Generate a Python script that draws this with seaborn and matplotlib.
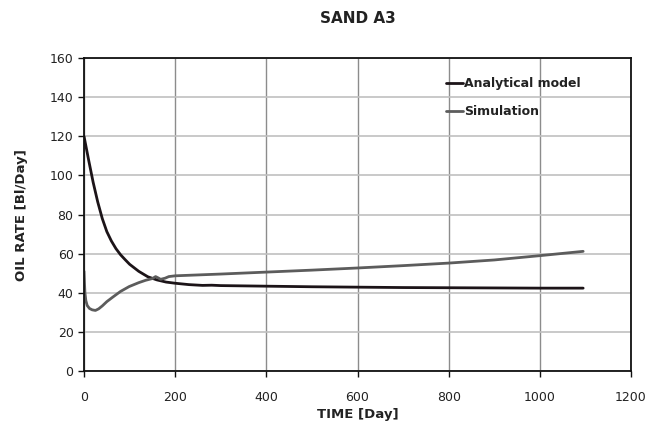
import numpy as np
import pandas as pd
import matplotlib
matplotlib.use('Agg')
import matplotlib.pyplot as plt
import seaborn as sns

# Analytical model curve
ana_days = [0, 10, 20, 30, 40, 50, 60, 70, 80, 90, 100, 120, 140, 160, 180, 200,
            230, 260, 280, 300, 400, 500, 600, 700, 800, 900, 1000, 1095]
ana_rate = [120, 108, 96.5, 86.5, 78, 71.3, 66.5, 62.6, 59.5, 57, 54.6, 51.0, 48.2, 46.6, 45.5, 44.9,
            44.2, 43.8, 43.9, 43.7, 43.4, 43.1, 42.9, 42.7, 42.6, 42.5, 42.4, 42.4]

# Simulation curve
sim_days = [0, 1, 2, 4, 7, 12, 18, 25, 32, 40, 50, 63, 80, 99, 120, 135, 150, 157, 163, 168,
            178, 186, 200, 300, 400, 500, 600, 700, 800, 900, 1000, 1095]
sim_rate = [51, 45, 40, 36, 33.5, 32, 31.3, 31, 31.8, 33.3, 35.5, 37.8, 40.7, 43.2, 45.2, 46.4,
            47.3, 48.3, 47.6, 46.9, 47.5, 48.3, 48.7, 49.6, 50.6, 51.6, 52.7, 53.9, 55.2, 56.8,
            59, 61.2]

x_ticks = [0, 200, 400, 600, 800, 1000, 1200]
y_ticks = [0, 20, 40, 60, 80, 100, 120, 140, 160]

ana = pd.DataFrame({'days': ana_days, 'rate': ana_rate})
sim = pd.DataFrame({'days': sim_days, 'rate': sim_rate})

sns.set_style('white')
plt.rcParams['font.family'] = ['DejaVu Sans']

fig = plt.figure(figsize=(6.58, 4.30), dpi=100)
ax = fig.add_axes([0.1277, 0.137, 0.8313, 0.728])

sns.lineplot(data=ana, x='days', y='rate', ax=ax, color='#1c1418', linewidth=2.0,
             label='Analytical model', estimator=None, sort=False)
sns.lineplot(data=sim, x='days', y='rate', ax=ax, color='#5c5c5c', linewidth=2.0,
             label='Simulation', estimator=None, sort=False)

ax.set_xlim(0, 1200)
ax.set_ylim(0, 160)
ax.set_xticks(x_ticks)
ax.set_yticks(y_ticks)

# vertical grid darker than horizontal, like the original
ax.xaxis.grid(True, color='#8c8c8c', linewidth=1.0)
ax.yaxis.grid(True, color='#c0c0c0', linewidth=1.2)
ax.set_axisbelow(True)

for s in ax.spines.values():
    s.set_visible(True)
    s.set_color('#111111')
    s.set_linewidth(1.3)

ax.tick_params(axis='both', direction='out', length=4, width=1, color='#111111',
               labelsize=9, labelcolor='#222222', bottom=True, left=True)
ax.tick_params(axis='x', pad=10)

ax.set_xlabel('TIME [Day]', fontsize=9.5, fontweight='bold', color='#222222', labelpad=3)
ax.set_ylabel('OIL RATE [Bl/Day]', fontsize=9.5, fontweight='bold', color='#222222', labelpad=16)
ax.set_title('SAND A3', fontsize=11, fontweight='bold', color='#222222', pad=25)

leg = ax.legend(loc='upper left', bbox_to_anchor=(0.642, 0.975), frameon=False,
                handlelength=1.3, handletextpad=0.1, labelspacing=1.2,
                prop={'weight': 'bold', 'size': 9})
for t in leg.get_texts():
    t.set_color('#222222')

fig.savefig('out.png', dpi=100)
